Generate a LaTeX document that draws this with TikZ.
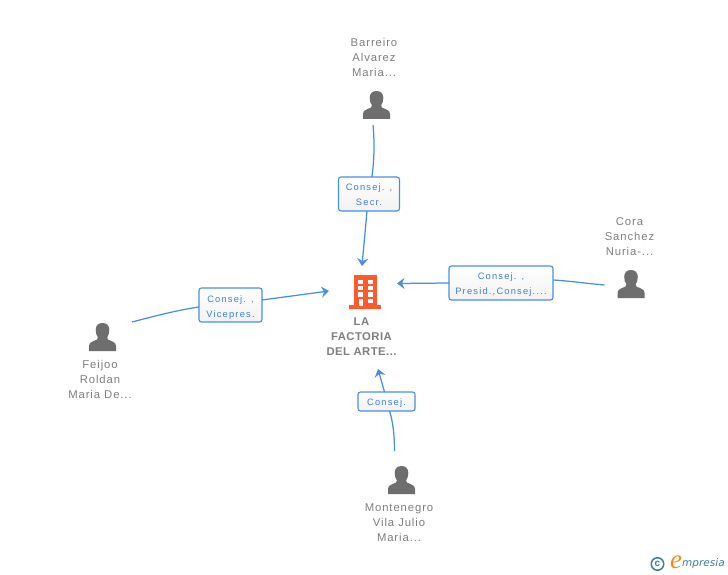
\documentclass[tikz,border=0pt]{standalone}
\usepackage{fontspec}
\setmainfont{Liberation Sans}
\newfontfamily\lblfont[LetterSpace=8]{Liberation Sans}
\newfontfamily\boldlbl[LetterSpace=4]{Liberation Sans}
\newfontfamily\boxfont[LetterSpace=13]{Liberation Sans}
\newfontfamily\logofont{Liberation Serif}
\newfontfamily\logosans{DejaVu Sans}
\usetikzlibrary{arrows.meta,shadings}
\definecolor{linkblue}{HTML}{4A8FE7}
\definecolor{boxtext}{HTML}{3F80DC}
\definecolor{grey1}{HTML}{808080}
\definecolor{icon}{HTML}{6E6E6E}
\definecolor{bld}{HTML}{FF5A2B}
\definecolor{teal1}{HTML}{3F7F93}
\definecolor{orange1}{HTML}{F58A1F}
\newcommand{\boxtext}[2]{\raisebox{#1}[0pt][0pt]{\begin{tabular}{@{}c@{}}#2\end{tabular}}}
\tikzset{
  x=1pt,y=-1pt,
  link/.style={draw=linkblue,line width=1.25pt},
  linkarrow/.style={link,-{Stealth[length=7.5pt,width=11pt,inset=2.5pt]}},
  rolebox/.style={draw=linkblue,line width=1.1pt,rounded corners=2.5pt,top color=white,bottom color=white!95!black,
    text=boxtext,font=\boxfont\fontsize{9.3}{15}\selectfont,align=center,inner sep=0pt},
  personlabel/.style={text=grey1,font=\lblfont\fontsize{11.3}{15}\selectfont,align=center,inner sep=0pt},
  companylabel/.style={text=grey1,font=\boldlbl\bfseries\fontsize{11.3}{15}\selectfont,align=center,inner sep=0pt},
  iconspot/.style={inner sep=0pt,minimum width=28pt,minimum height=28pt},
}
\newcommand{\personicon}[1]{%
  \fill[icon,shift={(#1)}]
    (-13.5,14) -- (-13.5,9) .. controls (-13.5,5) and (-9,4.2) .. (-5.5,2.6)
    .. controls (-4.6,2.2) and (-4.4,1.2) .. (-4.6,0.3)
    .. controls (-6,-1.5) and (-6.8,-4) .. (-6.8,-7.2)
    .. controls (-6.8,-11.8) and (-3.8,-14) .. (0,-14)
    .. controls (3.8,-14) and (6.8,-11.8) .. (6.8,-7.2)
    .. controls (6.8,-4) and (6,-1.5) .. (4.6,0.3)
    .. controls (4.4,1.2) and (4.6,2.2) .. (5.5,2.6)
    .. controls (9,4.2) and (13.5,5) .. (13.5,9) -- (13.5,14) -- cycle;}
\begin{document}
\begin{tikzpicture}
\useasboundingbox (0,0) rectangle (728,575);
\fill[white] (0,0) rectangle (728,575);

% people
\node[iconspot] (barreiro) at (376.5,105) {};
\node[iconspot] (cora) at (631,284) {};
\node[iconspot] (feijoo) at (102.5,337) {};
\node[iconspot] (montenegro) at (401.5,480) {};
\personicon{barreiro.center}
\personicon{cora.center}
\personicon{feijoo.center}
\personicon{montenegro.center}

\node[personlabel] (barreirot) at (374,57.5) {Barreiro\\Alvarez\\Maria...};
\node[personlabel] (corat) at (629.5,236.5) {Cora\\Sanchez\\Nuria-...};
\node[personlabel] (feijoot) at (100,379.5) {Feijoo\\Roldan\\Maria De...};
\node[personlabel] (montenegrot) at (399,522.5) {Montenegro\\Vila Julio\\Maria...};

% company
\node[inner sep=0pt,minimum width=32pt,minimum height=34pt] (company) at (365,292) {};
\fill[bld] (354,275) rectangle (377,306);
\fill[bld] (349,305) rectangle (381,308.5);
\foreach \yy in {279.5,285.7,292.4}{
  \fill[white] (358,\yy) rectangle (363,\yy+4.7);
  \fill[white] (368,\yy) rectangle (373,\yy+4.7);
}
\fill[white] (358.5,298.5) rectangle (363,305.5);
\fill[white] (368,298.5) rectangle (373,303.3);
\node[companylabel] (companyt) at (361.5,336.7) {LA\\FACTORIA\\DEL ARTE...};

% role boxes
\node[rolebox,minimum width=61pt,minimum height=34pt] (secr) at (369,194) {\boxtext{-3.5pt}{Consej. ,\\Secr.}};
\node[rolebox,minimum width=104pt,minimum height=34pt] (presid) at (501,283) {\boxtext{-3.5pt}{Consej. ,\\Presid.,Consej....}};
\node[rolebox,minimum width=63pt,minimum height=34pt] (vice) at (230.5,305) {\boxtext{-4.5pt}{Consej. ,\\Vicepres.}};
\node[rolebox,minimum width=57pt,minimum height=19pt] (consej) at (386.5,401.5) {\boxtext{-3.2pt}{Consej.}};

% free ends
\coordinate (a1) at (373,125);
\coordinate (a2) at (371.8,177);
\coordinate (a3) at (367,211);
\coordinate (a4) at (362,266);
\coordinate (b1) at (604.5,285);
\coordinate (b2) at (553.5,280);
\coordinate (b3) at (449,283);
\coordinate (b4) at (397,283.5);
\coordinate (c1) at (132,322);
\coordinate (c2) at (199,307);
\coordinate (c3) at (262,300);
\coordinate (c4) at (329,291);
\coordinate (d1) at (394.5,451);
\coordinate (d2) at (389.5,411);
\coordinate (d3) at (384.5,392);
\coordinate (d4) at (378,369);

\draw[link] (a1) .. controls (374.5,140) and (374.5,160) .. (a2);
\draw[linkarrow] (a3) -- (a4);
\draw[link] (b1) .. controls (587,283.5) and (570,281) .. (b2);
\draw[linkarrow] (b3) -- (b4);
\draw[link] (c1) .. controls (155,316) and (178,310) .. (c2);
\draw[linkarrow] (c3) -- (c4);
\draw[link] (d1) .. controls (394.5,435) and (393,422) .. (d2);
\draw[linkarrow] (d3) -- (d4);

% logo
\node[draw=teal1,line width=1.5pt,circle,minimum size=12.5pt,inner sep=0pt,text=teal1,font=\bfseries\fontsize{10}{10}\selectfont] (copy) at (657.5,564) {c};
\node[text=orange1,font=\logofont\itshape\fontsize{27}{27}\selectfont,inner sep=0pt] (logoe) at (676,562) {e};
\node[text=teal1,font=\logosans\itshape\fontsize{10.5}{10.5}\selectfont,inner sep=0pt,anchor=west] (logot) at (682,564) {mpresia};
\end{tikzpicture}
\end{document}
